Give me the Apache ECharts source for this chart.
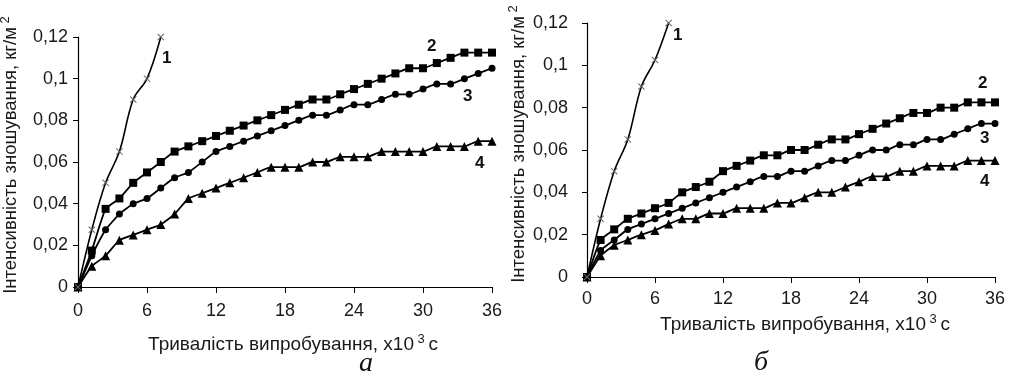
<!DOCTYPE html>
<html>
<head>
<meta charset="utf-8">
<script src="https://cdn.jsdelivr.net/npm/echarts@6/dist/echarts.min.js"></script>
<style>
html,body{margin:0;padding:0;background:#fff;}
#chart{width:1010px;height:372px;}
</style>
</head>
<body>
<div id="chart"></div>
<script>
// Time, x10^3 s
const xTimes = [0,1.2,2.4,3.6,4.8,6,7.2,8.4,9.6,10.8,12,13.2,14.4,15.6,16.8,18,19.2,20.4,21.6,22.8,24,25.2,26.4,27.6,28.8,30,31.2,32.4,33.6,34.8,36];
const xTicks = [0,6,12,18,24,30,36];
const yTicks = [0,0.02,0.04,0.06,0.08,0.1,0.12];

// Panel a
const a1 = [0,0.0275,0.05,0.065,0.09,0.1,0.12];
const a2 = [0,0.0175,0.0375,0.0425,0.05,0.055,0.06,0.065,0.0675,0.07,0.0725,0.075,0.0775,0.08,0.0825,0.085,0.0875,0.09,0.09,0.0925,0.095,0.0975,0.1,0.1025,0.105,0.105,0.1075,0.11,0.1125,0.1125,0.1125];
const a3 = [0,0.015,0.0275,0.035,0.04,0.0425,0.0475,0.0525,0.055,0.06,0.065,0.0675,0.07,0.0725,0.075,0.0775,0.08,0.0825,0.0825,0.085,0.0875,0.0875,0.09,0.0925,0.0925,0.095,0.0975,0.0975,0.1,0.1025,0.105];
const a4 = [0,0.01,0.015,0.0225,0.025,0.0275,0.03,0.035,0.0425,0.045,0.0475,0.05,0.0525,0.055,0.0575,0.0575,0.0575,0.06,0.06,0.0625,0.0625,0.0625,0.065,0.065,0.065,0.065,0.0675,0.0675,0.0675,0.07,0.07];

// Panel б
const b1 = [0,0.0275,0.05,0.065,0.09,0.1025,0.12];
const b2 = [0,0.0175,0.0225,0.0275,0.03,0.0325,0.035,0.04,0.0425,0.045,0.05,0.0525,0.055,0.0575,0.0575,0.06,0.06,0.0625,0.065,0.065,0.0675,0.07,0.0725,0.075,0.0775,0.0775,0.08,0.08,0.0825,0.0825,0.0825];
const b3 = [0,0.0125,0.0175,0.0225,0.025,0.0275,0.03,0.0325,0.035,0.0375,0.04,0.0425,0.045,0.0475,0.0475,0.05,0.05,0.0525,0.055,0.055,0.0575,0.06,0.06,0.0625,0.0625,0.065,0.065,0.0675,0.07,0.0725,0.0725];
const b4 = [0,0.01,0.015,0.0175,0.02,0.022,0.025,0.0275,0.0275,0.03,0.03,0.0325,0.0325,0.0325,0.035,0.035,0.0375,0.04,0.04,0.0425,0.045,0.0475,0.0475,0.05,0.05,0.0525,0.0525,0.0525,0.055,0.055,0.055];

const yTitle = '{n|Інтенсивність зношування, кг/м}{s| 2}';
const xTitle = '{n|Тривалість випробування, х10}{s| 3 }{n|с}';
const panelNames = ['а','б'];
const curveNames = ['1','2','3','4'];

const FONT = '"Liberation Sans", Arial, sans-serif';
const TXT = '#1a1a1a';
const crossPath = 'path://M0,1L1,0L5,4L9,0L10,1L6,5L10,9L9,10L5,6L1,10L0,9L4,5Z';

const chart = echarts.init(document.getElementById('chart'), null, {renderer:'canvas'});

function pairs(ys){ return ys.map((v,i)=>[xTimes[i], v]); }

function yFmt(v){ return String(+v.toFixed(2)).replace('.', ','); }

function xAxisCfg(gi, gap, margin, pad){
  return {
    type:'value', gridIndex:gi, min:xTicks[0], max:xTicks[xTicks.length-1], interval:6,
    axisLine:{show:true, onZero:false, lineStyle:{color:'#000', width:1.2}},
    axisTick:{show:true, length:6, inside:false, lineStyle:{color:'#000', width:1}},
    axisLabel:{margin:margin, color:TXT, fontSize:18, fontFamily:FONT},
    splitLine:{show:false},
    name:xTitle, nameLocation:'middle', nameGap:gap,
    nameTextStyle:{color:TXT, fontFamily:FONT, padding:[0,0,0,pad],
      rich:{n:{fontSize:19, fontFamily:FONT, color:TXT}, s:{fontSize:13, fontFamily:FONT, color:TXT, padding:[0,0,10,0]}}}
  };
}
function yAxisCfg(gi, gap, margin, pad){
  return {
    type:'value', gridIndex:gi, min:yTicks[0], max:yTicks[yTicks.length-1], interval:0.02,
    axisLine:{show:true, onZero:false, lineStyle:{color:'#000', width:1.2}},
    axisTick:{show:true, length:5, inside:false, lineStyle:{color:'#000', width:1}},
    axisLabel:{margin:margin, color:TXT, fontSize:18, fontFamily:FONT, formatter:yFmt},
    splitLine:{show:false},
    name:yTitle, nameLocation:'middle', nameGap:gap, nameRotate:90,
    nameTextStyle:{color:TXT, fontFamily:FONT, padding:[0,0,0,pad],
      rich:{n:{fontSize:18.5, fontFamily:FONT, color:TXT}, s:{fontSize:13, fontFamily:FONT, color:TXT, padding:[0,0,10,0]}}}
  };
}

function lineSeries(idx, data, symbol, size, smooth, isCross){
  return {
    type:'line', xAxisIndex:idx, yAxisIndex:idx, data:data,
    symbol:symbol, symbolSize:size, showSymbol:true, smooth:smooth,
    lineStyle:{color:'#000', width:isCross?1.6:1.8},
    itemStyle:{color:isCross?'#666':'#000'},
    z: isCross?3:2,
    animation:false
  };
}

const numStyle = {fontSize:17, fontWeight:'bold', fontFamily:FONT, fill:'#111'};

chart.setOption({
  backgroundColor:'#fff',
  animation:false,
  grid:[
    {left:78, top:37, width:414, height:250, outerBoundsMode:'none', containLabel:false},
    {left:587, top:23, width:408, height:254, outerBoundsMode:'none', containLabel:false}
  ],
  xAxis:[xAxisCfg(0, 46, 15, 16), xAxisCfg(1, 35, 13, 28)],
  yAxis:[yAxisCfg(0, 56, 10, 14), yAxisCfg(1, 57, 19, 12)],
  series:[
    lineSeries(0, pairs(a1), crossPath, 7, 0.35, true),
    lineSeries(0, pairs(a2), 'rect', 8, 0.15, false),
    lineSeries(0, pairs(a3), 'circle', 7, 0.15, false),
    lineSeries(0, pairs(a4), 'triangle', 9, 0.15, false),
    lineSeries(1, pairs(b1), crossPath, 7, 0.35, true),
    lineSeries(1, pairs(b2), 'rect', 8, 0.15, false),
    lineSeries(1, pairs(b3), 'circle', 7, 0.15, false),
    lineSeries(1, pairs(b4), 'triangle', 9, 0.15, false)
  ],
  graphic:[
    {type:'text', left:162, top:50, style:Object.assign({text:curveNames[0]}, numStyle)},
    {type:'text', left:427, top:38, style:Object.assign({text:curveNames[1]}, numStyle)},
    {type:'text', left:463, top:88, style:Object.assign({text:curveNames[2]}, numStyle)},
    {type:'text', left:475, top:155, style:Object.assign({text:curveNames[3]}, numStyle)},
    {type:'text', left:673, top:27, style:Object.assign({text:curveNames[0]}, numStyle)},
    {type:'text', left:978, top:75, style:Object.assign({text:curveNames[1]}, numStyle)},
    {type:'text', left:980, top:130, style:Object.assign({text:curveNames[2]}, numStyle)},
    {type:'text', left:980, top:173, style:Object.assign({text:curveNames[3]}, numStyle)},
    {type:'text', left:359, top:350, style:{text:panelNames[0], fontSize:28, fontStyle:'italic', fontFamily:'"Liberation Serif", "DejaVu Serif", serif', fill:'#111'}},
    {type:'text', left:754, top:349, style:{text:panelNames[1], fontSize:28, fontStyle:'italic', fontFamily:'"Liberation Serif", "DejaVu Serif", serif', fill:'#111'}}
  ]
});
</script>
</body>
</html>
